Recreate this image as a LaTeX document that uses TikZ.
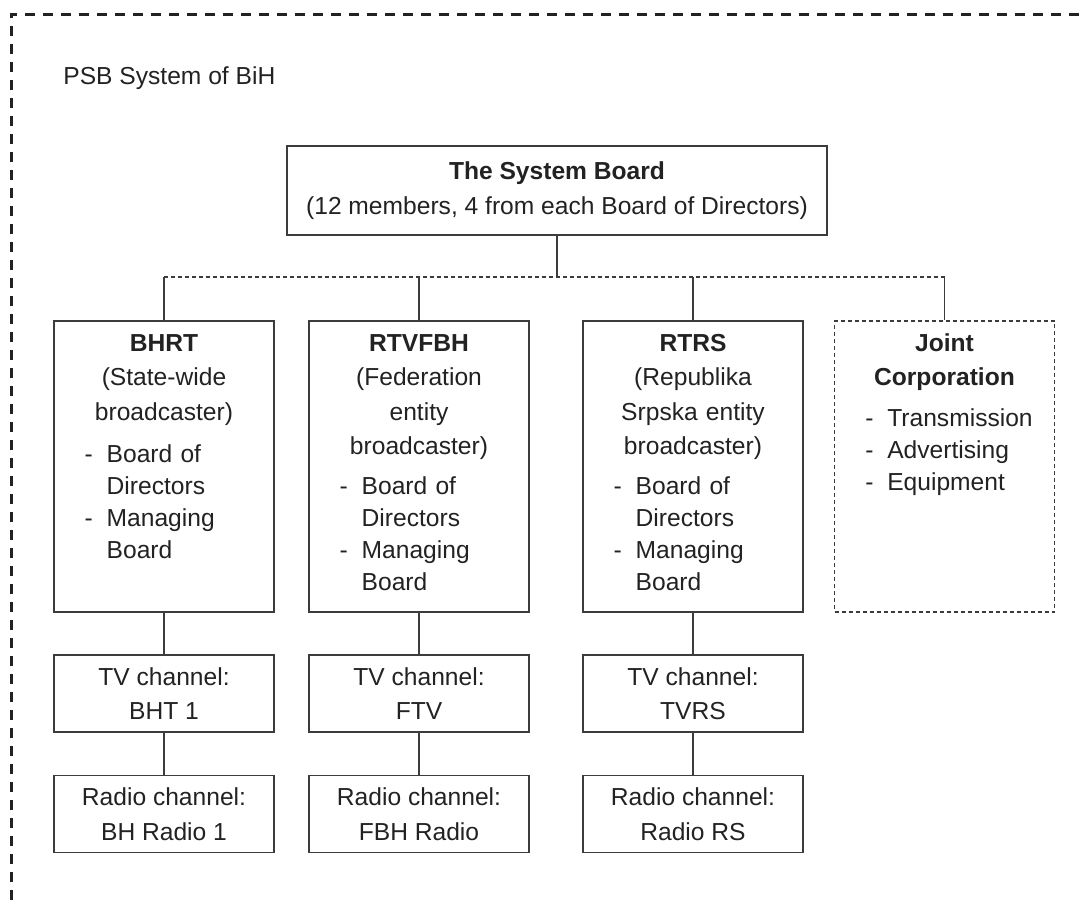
\documentclass[tikz,border=0pt]{standalone}
\usepackage{fontspec}
\setmainfont{Liberation Sans}
\usetikzlibrary{positioning}
\definecolor{ink}{HTML}{222222}
\definecolor{rule}{HTML}{3C3C3C}
\newcommand{\bul}{\makebox[11pt][l]{-}}
\newcommand{\ind}{\hspace*{11pt}}

\begin{document}
\begin{tikzpicture}[
        x=0.5pt, y=-0.5pt,
        every node/.style={text=ink, font=\fontsize{12.3pt}{17.25pt}\selectfont},
        frame/.style={draw=ink, line width=1.5pt, dash pattern=on 5pt off 4pt},
        board/.style={rectangle, draw=rule, line width=0.7pt, minimum width=270pt, minimum height=44.5pt, align=center},
        unit/.style={rectangle, draw=rule, line width=0.7pt, minimum width=110pt, minimum height=145.5pt, inner sep=0pt},
        joint/.style={unit, line width=0.6pt, dash pattern=on 2pt off 1.5pt},
        heading/.style={anchor=base, text width=105pt, align=center, inner sep=0pt},
        items/.style={anchor=base west, text width=90pt, align=left, inner sep=0pt, font=\fontsize{12.3pt}{16pt}\selectfont},
        channel/.style={rectangle, draw=rule, line width=0.7pt, minimum width=110pt, minimum height=38.5pt, align=center, inner sep=0pt},
        link/.style={draw=rule, line width=0.7pt},
        buslink/.style={draw=rule, line width=0.6pt, dash pattern=on 2pt off 1.5pt}
    ]
    \useasboundingbox (0,0) rectangle (1086,900);

    % Outer frame - only top and left edges show
    \draw[frame] (11,900) -- (11,14) -- (1086,14);
    \node[anchor=base west, inner sep=0pt] (psb) at (63,84) {PSB System of BiH};

    % Top - the System Board
    \node[board] (sys) at (557,190.5) {\textbf{The System Board}\\(12 members, 4 from each Board of Directors)};

    % Middle - broadcasters and the joint corporation
    \node[unit] (bhrt) at (164,466.5) {};
    \node[unit] (rtvfbh) at (419,466.5) {};
    \node[unit] (rtrs) at (693,466.5) {};
    \node[joint] (jc) at (944.5,466.5) {};

    \node[heading] (bhrt-h) at ([shift={(0,31)}]bhrt.north) {\textbf{BHRT}\\(State-wide\\broadcaster)};
    \node[heading] (rtvfbh-h) at ([shift={(0,31)}]rtvfbh.north) {\textbf{RTVFBH}\\(Federation\\entity\\broadcaster)};
    \node[heading] (rtrs-h) at ([shift={(0,31)}]rtrs.north) {\textbf{RTRS}\\(Republika\\Srpska entity\\broadcaster)};
    \node[heading] (jc-h) at ([shift={(0,31)}]jc.north) {\textbf{Joint}\\\textbf{Corporation}};

    \node[items] (bhrt-i) at ([shift={(31,142)}]bhrt.north west) {\bul Board of\\\ind Directors\\\bul Managing\\\ind Board};
    \node[items] (rtvfbh-i) at ([shift={(31,174)}]rtvfbh.north west) {\bul Board of\\\ind Directors\\\bul Managing\\\ind Board};
    \node[items] (rtrs-i) at ([shift={(31,174)}]rtrs.north west) {\bul Board of\\\ind Directors\\\bul Managing\\\ind Board};
    \node[items] (jc-i) at ([shift={(31,106)}]jc.north west) {\bul Transmission\\\bul Advertising\\\bul Equipment};

    % Bottom - channels
    \node[channel] (bht) at (164,693.5) {TV channel:\\BHT 1};
    \node[channel] (ftv) at (419,693.5) {TV channel:\\FTV};
    \node[channel] (tvrs) at (693,693.5) {TV channel:\\TVRS};
    \node[channel] (bhr) at (164,814) {Radio channel:\\BH Radio 1};
    \node[channel] (fbhr) at (419,814) {Radio channel:\\FBH Radio};
    \node[channel] (rrs) at (693,814) {Radio channel:\\Radio RS};

    % Connectors
    \coordinate (bus) at (557,277);
    \draw[link] (sys.south) -- (bus);
    \draw[buslink] (bhrt.north |- bus) -- (jc.north |- bus);
    \foreach \u in {bhrt,rtvfbh,rtrs,jc}
        \draw[link] (\u.north |- bus) -- (\u.north);
    \draw[link] (bhrt) -- (bht);
    \draw[link] (bht) -- (bhr);
    \draw[link] (rtvfbh) -- (ftv);
    \draw[link] (ftv) -- (fbhr);
    \draw[link] (rtrs) -- (tvrs);
    \draw[link] (tvrs) -- (rrs);

\end{tikzpicture}
\end{document}
